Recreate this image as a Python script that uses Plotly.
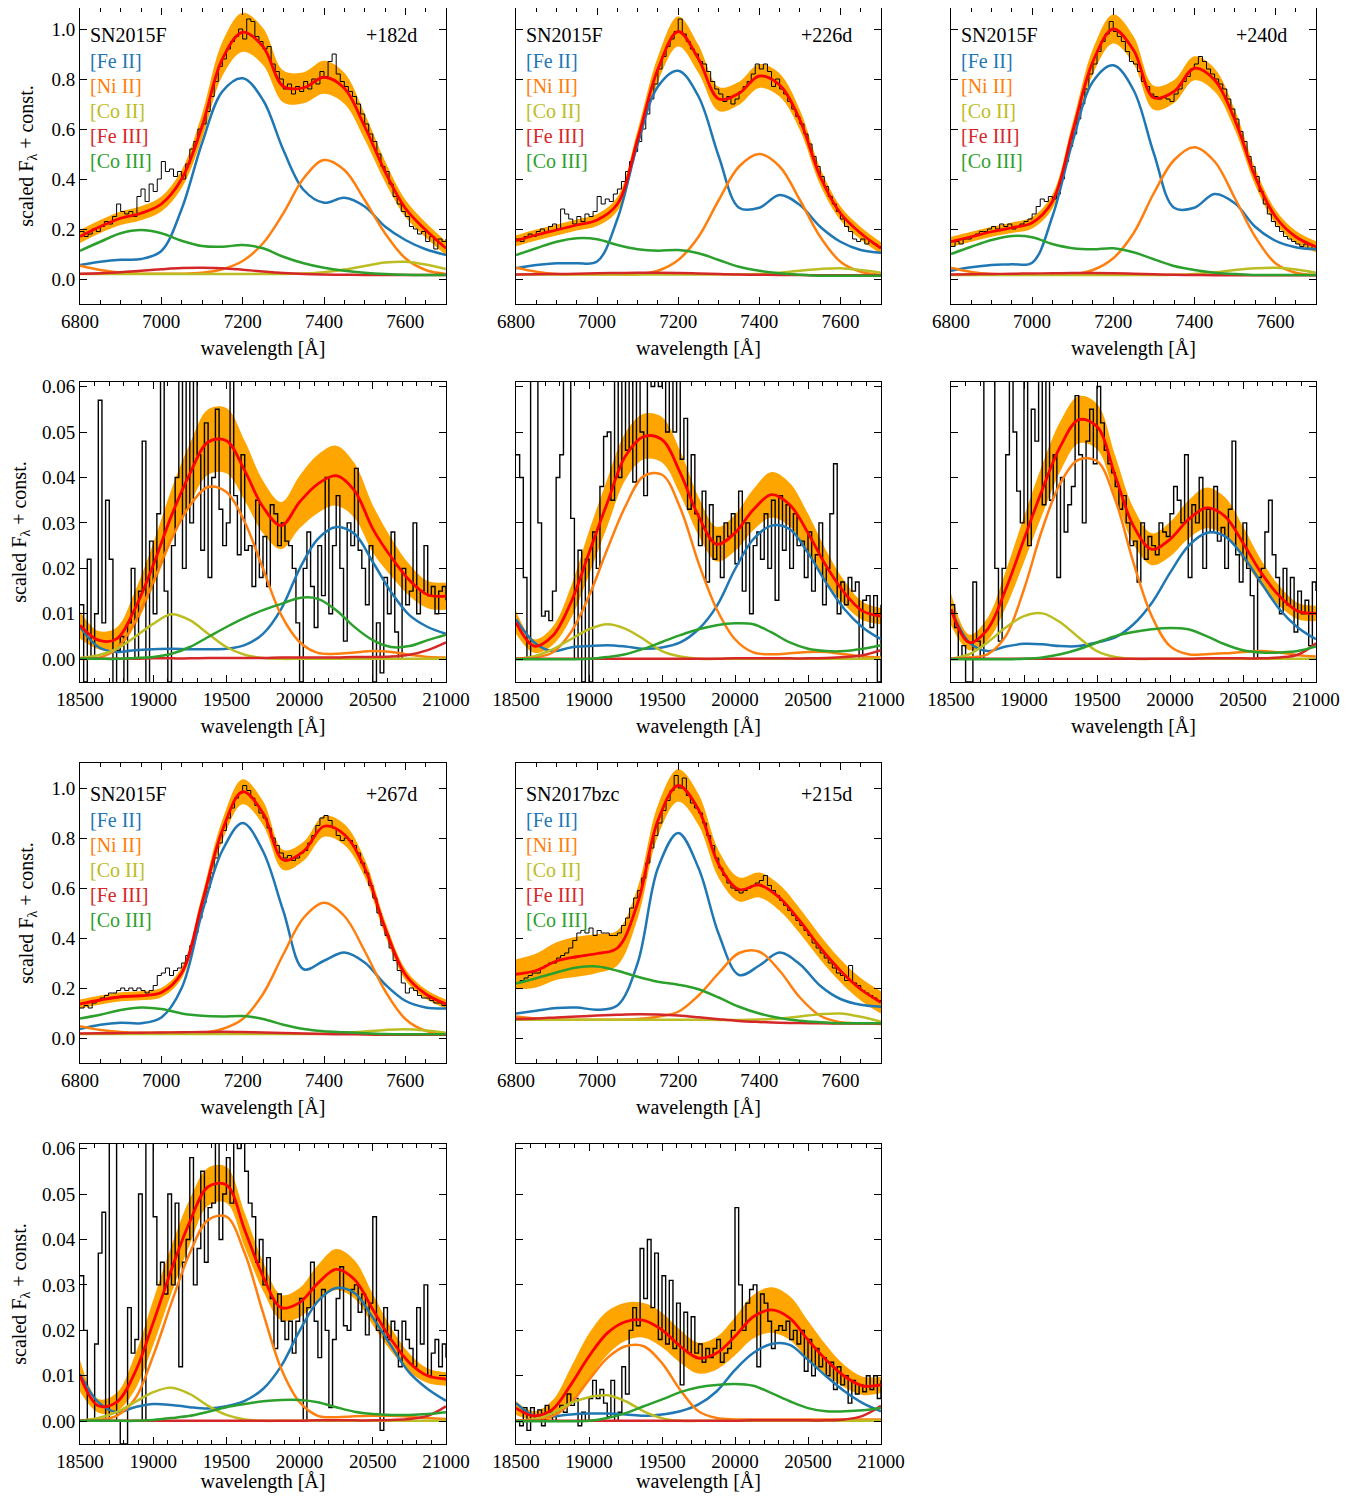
import plotly.graph_objects as go

FONT = "Liberation Serif"

# wavelength sampling (Angstrom)
OPT_WAVE = list(range(6800, 7701, 50))
NIR_WAVE = list(range(18500, 21001, 125))
OPT_SPEC_WAVE = list(range(6800, 7701, 10))
NIR_SPEC_WAVE = list(range(18500, 21001, 25))

SPECIES = ["[Fe II]", "[Ni II]", "[Co II]", "[Fe III]", "[Co III]"]
SPECIES_COLORS = ["#1f77b4", "#ff7f0e", "#bcbd22", "#d62728", "#2ca02c"]

# ---------------- SN2015F +182d, optical ----------------
spec_182 = [0.19, 0.17, 0.18, 0.20, 0.19, 0.21, 0.23, 0.22, 0.25, 0.30,
            0.27, 0.26, 0.27, 0.25, 0.33, 0.36, 0.31, 0.38, 0.35, 0.40,
            0.47, 0.43, 0.44, 0.41, 0.43, 0.40, 0.46, 0.52, 0.55, 0.60,
            0.62, 0.67, 0.73, 0.79, 0.85, 0.88, 0.92, 0.95, 0.97, 1.00,
            0.96, 1.04, 1.03, 0.97, 0.95, 0.92, 0.93, 0.86, 0.83, 0.80,
            0.76, 0.78, 0.74, 0.77, 0.75, 0.79, 0.76, 0.80, 0.78, 0.83,
            0.81, 0.87, 0.90, 0.82, 0.79, 0.77, 0.75, 0.73, 0.70, 0.66,
            0.62, 0.58, 0.55, 0.50, 0.45, 0.43, 0.38, 0.33, 0.30, 0.27,
            0.25, 0.21, 0.20, 0.18, 0.19, 0.15, 0.17, 0.12, 0.16, 0.15,
            0.16]
fit_182 = [0.170, 0.210, 0.243, 0.263, 0.300, 0.400, 0.610, 0.880, 0.987, 0.930,
           0.770, 0.765, 0.807, 0.763, 0.610, 0.430, 0.283, 0.196, 0.123]
sig_182 = [0.026, 0.026, 0.027, 0.028, 0.030, 0.036, 0.050, 0.068, 0.078, 0.074,
           0.064, 0.062, 0.066, 0.062, 0.052, 0.042, 0.034, 0.030, 0.028]
fe2_182 = [0.056, 0.069, 0.077, 0.080, 0.112, 0.280, 0.543, 0.750, 0.803, 0.716,
           0.516, 0.356, 0.305, 0.325, 0.290, 0.210, 0.156, 0.119, 0.096]
ni2_182 = [0.053, 0.036, 0.025, 0.021, 0.021, 0.021, 0.025, 0.039, 0.072, 0.143,
           0.263, 0.403, 0.476, 0.436, 0.316, 0.183, 0.083, 0.036, 0.020]
co2_182 = [0.020, 0.020, 0.020, 0.020, 0.020, 0.020, 0.020, 0.020, 0.020, 0.020,
           0.020, 0.022, 0.027, 0.038, 0.052, 0.066, 0.069, 0.058, 0.040]
fe3_182 = [0.021, 0.023, 0.027, 0.033, 0.039, 0.044, 0.045, 0.043, 0.037, 0.030,
           0.024, 0.020, 0.018, 0.017, 0.016, 0.016, 0.016, 0.016, 0.016]
co3_182 = [0.113, 0.149, 0.183, 0.196, 0.183, 0.153, 0.132, 0.129, 0.136, 0.123,
           0.089, 0.063, 0.045, 0.033, 0.025, 0.020, 0.017, 0.016, 0.016]

# ---------------- SN2015F +226d, optical ----------------
spec_226 = [0.16, 0.15, 0.17, 0.18, 0.17, 0.19, 0.20, 0.19, 0.21, 0.22,
            0.20, 0.28, 0.26, 0.24, 0.22, 0.25, 0.23, 0.26, 0.25, 0.27,
            0.33, 0.30, 0.32, 0.31, 0.34, 0.36, 0.39, 0.43, 0.47, 0.51,
            0.55, 0.60, 0.66, 0.72, 0.78, 0.84, 0.89, 0.93, 0.96, 0.99,
            1.04, 0.98, 0.95, 0.92, 0.90, 0.87, 0.86, 0.83, 0.79, 0.76,
            0.74, 0.71, 0.73, 0.70, 0.72, 0.75, 0.77, 0.79, 0.82, 0.86,
            0.84, 0.86, 0.83, 0.77, 0.80, 0.76, 0.74, 0.71, 0.68, 0.65,
            0.62, 0.58, 0.54, 0.49, 0.45, 0.41, 0.37, 0.33, 0.30, 0.27,
            0.24, 0.21, 0.19, 0.16, 0.15, 0.16, 0.14, 0.15, 0.14, 0.13,
            0.13]
fit_226 = [0.153, 0.176, 0.196, 0.216, 0.236, 0.300, 0.560, 0.840, 0.990, 0.880,
           0.720, 0.743, 0.812, 0.776, 0.636, 0.410, 0.263, 0.183, 0.123]
sig_226 = [0.022, 0.022, 0.022, 0.022, 0.024, 0.028, 0.036, 0.050, 0.060, 0.056,
           0.048, 0.046, 0.048, 0.046, 0.040, 0.034, 0.028, 0.025, 0.024]
fe2_226 = [0.043, 0.056, 0.063, 0.063, 0.070, 0.240, 0.540, 0.770, 0.833, 0.730,
           0.490, 0.285, 0.285, 0.336, 0.296, 0.209, 0.149, 0.116, 0.105]
ni2_226 = [0.045, 0.029, 0.020, 0.019, 0.019, 0.019, 0.019, 0.033, 0.076, 0.169,
           0.316, 0.450, 0.500, 0.450, 0.316, 0.169, 0.069, 0.029, 0.016]
co2_226 = [0.018, 0.018, 0.018, 0.018, 0.018, 0.018, 0.018, 0.018, 0.018, 0.018,
           0.018, 0.018, 0.020, 0.025, 0.033, 0.040, 0.043, 0.036, 0.025]
fe3_226 = [0.018, 0.019, 0.020, 0.021, 0.023, 0.024, 0.025, 0.025, 0.024, 0.022,
           0.020, 0.018, 0.017, 0.016, 0.016, 0.015, 0.015, 0.015, 0.015]
co3_226 = [0.096, 0.123, 0.149, 0.163, 0.159, 0.136, 0.119, 0.113, 0.116, 0.103,
           0.076, 0.049, 0.033, 0.023, 0.017, 0.013, 0.013, 0.013, 0.013]

# ---------------- SN2015F +240d, optical ----------------
spec_240 = [0.13, 0.15, 0.14, 0.16, 0.16, 0.17, 0.18, 0.19, 0.19, 0.20,
            0.21, 0.20, 0.22, 0.21, 0.22, 0.20, 0.21, 0.22, 0.23, 0.24,
            0.26, 0.29, 0.32, 0.31, 0.33, 0.32, 0.34, 0.40, 0.47, 0.53,
            0.58, 0.64, 0.70, 0.76, 0.82, 0.86, 0.91, 0.95, 0.98, 1.03,
            0.99, 0.97, 0.95, 0.91, 0.87, 0.86, 0.83, 0.79, 0.77, 0.74,
            0.73, 0.72, 0.73, 0.72, 0.71, 0.74, 0.76, 0.79, 0.81, 0.84,
            0.86, 0.89, 0.87, 0.84, 0.82, 0.80, 0.78, 0.76, 0.72, 0.68,
            0.64, 0.59, 0.55, 0.49, 0.45, 0.41, 0.35, 0.30, 0.26, 0.23,
            0.21, 0.19, 0.17, 0.16, 0.15, 0.14, 0.13, 0.14, 0.12, 0.13,
            0.12]
fit_240 = [0.149, 0.169, 0.189, 0.205, 0.225, 0.310, 0.590, 0.870, 1.000, 0.916,
           0.725, 0.750, 0.843, 0.796, 0.636, 0.409, 0.249, 0.169, 0.129]
sig_240 = [0.020, 0.020, 0.020, 0.021, 0.023, 0.028, 0.036, 0.050, 0.058, 0.055,
           0.048, 0.046, 0.048, 0.046, 0.040, 0.034, 0.028, 0.024, 0.022]
fe2_240 = [0.033, 0.047, 0.056, 0.059, 0.065, 0.250, 0.550, 0.790, 0.855, 0.756,
           0.503, 0.285, 0.285, 0.340, 0.303, 0.209, 0.153, 0.127, 0.119]
ni2_240 = [0.045, 0.028, 0.020, 0.019, 0.019, 0.019, 0.019, 0.036, 0.083, 0.183,
           0.343, 0.476, 0.527, 0.470, 0.323, 0.169, 0.063, 0.025, 0.015]
co2_240 = [0.016, 0.016, 0.016, 0.016, 0.016, 0.016, 0.016, 0.016, 0.016, 0.016,
           0.016, 0.017, 0.020, 0.027, 0.036, 0.043, 0.045, 0.038, 0.025]
fe3_240 = [0.018, 0.019, 0.020, 0.021, 0.022, 0.023, 0.024, 0.024, 0.023, 0.021,
           0.019, 0.017, 0.016, 0.015, 0.015, 0.015, 0.015, 0.015, 0.015]
co3_240 = [0.100, 0.129, 0.156, 0.172, 0.167, 0.140, 0.123, 0.119, 0.123, 0.107,
           0.079, 0.052, 0.036, 0.025, 0.020, 0.016, 0.016, 0.016, 0.016]

# ---------------- SN2015F +267d, optical ----------------
spec_267 = [0.12, 0.13, 0.12, 0.14, 0.15, 0.16, 0.17, 0.18, 0.18, 0.19,
            0.20, 0.19, 0.20, 0.19, 0.20, 0.19, 0.18, 0.19, 0.21, 0.25,
            0.26, 0.28, 0.25, 0.27, 0.28, 0.30, 0.33, 0.37, 0.42, 0.48,
            0.54, 0.60, 0.66, 0.72, 0.78, 0.83, 0.88, 0.92, 0.96, 0.98,
            1.01, 0.99, 0.96, 0.93, 0.90, 0.88, 0.84, 0.80, 0.77, 0.74,
            0.72, 0.73, 0.71, 0.72, 0.74, 0.75, 0.78, 0.81, 0.85, 0.88,
            0.89, 0.87, 0.84, 0.81, 0.79, 0.80, 0.79, 0.77, 0.74, 0.70,
            0.66, 0.61, 0.56, 0.50, 0.45, 0.41, 0.36, 0.31, 0.27, 0.22,
            0.18, 0.20, 0.19, 0.17, 0.16, 0.16, 0.15, 0.14, 0.14, 0.13,
            0.13]
fit_267 = [0.136, 0.152, 0.165, 0.169, 0.182, 0.260, 0.540, 0.830, 0.985, 0.900,
           0.712, 0.747, 0.847, 0.814, 0.680, 0.440, 0.254, 0.176, 0.136]
sig_267 = [0.018, 0.018, 0.018, 0.018, 0.019, 0.022, 0.030, 0.042, 0.050, 0.048,
           0.040, 0.038, 0.042, 0.042, 0.036, 0.028, 0.022, 0.019, 0.018]
fe2_267 = [0.036, 0.053, 0.061, 0.059, 0.082, 0.200, 0.500, 0.750, 0.860, 0.747,
           0.508, 0.275, 0.309, 0.342, 0.302, 0.215, 0.149, 0.122, 0.118]
ni2_267 = [0.047, 0.032, 0.024, 0.021, 0.021, 0.021, 0.021, 0.036, 0.076, 0.176,
           0.335, 0.481, 0.541, 0.488, 0.348, 0.189, 0.076, 0.029, 0.019]
co2_267 = [0.016, 0.016, 0.016, 0.016, 0.016, 0.016, 0.016, 0.016, 0.016, 0.016,
           0.016, 0.016, 0.017, 0.020, 0.026, 0.032, 0.035, 0.030, 0.021]
fe3_267 = [0.018, 0.019, 0.020, 0.021, 0.022, 0.023, 0.024, 0.025, 0.024, 0.022,
           0.020, 0.018, 0.016, 0.015, 0.014, 0.013, 0.013, 0.013, 0.013]
co3_267 = [0.078, 0.093, 0.112, 0.122, 0.116, 0.098, 0.089, 0.086, 0.088, 0.076,
           0.053, 0.036, 0.027, 0.023, 0.019, 0.016, 0.015, 0.015, 0.015]

# ---------------- SN2017bzc +215d, optical ----------------
spec_215 = [0.22, 0.23, 0.24, 0.25, 0.26, 0.26, 0.28, 0.29, 0.30, 0.30,
            0.32, 0.33, 0.34, 0.36, 0.39, 0.42, 0.43, 0.42, 0.44, 0.41,
            0.43, 0.42, 0.42, 0.41, 0.41, 0.42, 0.45, 0.48, 0.52, 0.56,
            0.59, 0.64, 0.70, 0.76, 0.81, 0.86, 0.91, 0.95, 0.99, 1.05,
            1.00, 1.04, 0.97, 0.94, 0.92, 0.90, 0.86, 0.81, 0.77, 0.72,
            0.68, 0.65, 0.62, 0.60, 0.59, 0.58, 0.59, 0.60, 0.61, 0.62,
            0.63, 0.65, 0.61, 0.59, 0.57, 0.55, 0.53, 0.51, 0.49, 0.47,
            0.45, 0.43, 0.41, 0.38, 0.36, 0.34, 0.32, 0.30, 0.28, 0.26,
            0.25, 0.23, 0.29, 0.22, 0.21, 0.19, 0.18, 0.17, 0.16, 0.15,
            0.15]
fit_215 = [0.255, 0.270, 0.308, 0.325, 0.338, 0.360, 0.540, 0.870, 1.010, 0.914,
           0.694, 0.594, 0.612, 0.561, 0.468, 0.362, 0.269, 0.195, 0.142]
sig_215 = [0.060, 0.068, 0.075, 0.080, 0.078, 0.070, 0.062, 0.062, 0.065, 0.062,
           0.055, 0.048, 0.050, 0.052, 0.050, 0.048, 0.046, 0.045, 0.045]
fe2_215 = [0.098, 0.109, 0.120, 0.122, 0.113, 0.130, 0.300, 0.680, 0.820, 0.680,
           0.415, 0.252, 0.290, 0.342, 0.295, 0.209, 0.156, 0.133, 0.125]
ni2_215 = [0.086, 0.078, 0.074, 0.073, 0.073, 0.073, 0.076, 0.085, 0.105, 0.170,
           0.260, 0.340, 0.345, 0.269, 0.162, 0.089, 0.063, 0.059, 0.056]
co2_215 = [0.073, 0.073, 0.073, 0.073, 0.073, 0.073, 0.073, 0.073, 0.073, 0.073,
           0.072, 0.072, 0.074, 0.078, 0.086, 0.095, 0.098, 0.085, 0.066]
fe3_215 = [0.076, 0.078, 0.082, 0.086, 0.090, 0.093, 0.095, 0.094, 0.090, 0.083,
           0.075, 0.068, 0.064, 0.061, 0.060, 0.059, 0.058, 0.058, 0.058]
co3_215 = [0.218, 0.239, 0.262, 0.282, 0.286, 0.269, 0.245, 0.225, 0.213, 0.195,
           0.162, 0.125, 0.098, 0.080, 0.069, 0.063, 0.059, 0.059, 0.059]

# ---------------- SN2015F +182d, NIR ----------------
nspec_182 = [0.012, -0.005, 0.022, 0.0, 0.01, 0.057, 0.008, 0.035, 0.022, -0.01,
             0.002, 0.005, -0.008, 0.008, 0.02, 0.0, 0.015, 0.048, -0.01, 0.026,
             0.01, 0.032, 0.065, 0.015, -0.005, 0.025, 0.04, 0.065, 0.02, 0.065,
             0.03, 0.065, 0.045, 0.024, 0.052, 0.018, 0.04, 0.055, 0.033, 0.025,
             0.03, 0.065, 0.036, 0.023, 0.045, 0.024, 0.025, 0.016, 0.035, 0.018,
             0.027, 0.016, 0.034, 0.032, 0.025, 0.03, 0.026, 0.025, 0.02, 0.008,
             -0.005, 0.02, 0.028, 0.016, 0.007, 0.025, 0.014, 0.04, 0.01, 0.025,
             0.036, 0.02, 0.004, 0.03, 0.025, 0.042, 0.024, 0.02, 0.012, 0.025,
             -0.005, 0.008, -0.003, 0.018, 0.01, 0.028, 0.006, 0.0, 0.02, 0.012,
             0.015, 0.03, 0.01, 0.015, 0.025, 0.014, 0.016, 0.01, 0.015, 0.016,
             0.013]
nfit_182 = [0.0075, 0.0042, 0.0045, 0.0111, 0.0207, 0.0316, 0.0408, 0.0478, 0.0481, 0.0415,
            0.0335, 0.0294, 0.0346, 0.0386, 0.0404, 0.0371, 0.0287, 0.0225, 0.0174, 0.0142,
            0.0139]
nsig_182 = [0.0030, 0.0020, 0.0025, 0.0038, 0.0048, 0.0058, 0.0066, 0.0072, 0.0072, 0.0066,
            0.0058, 0.0052, 0.0058, 0.0064, 0.0066, 0.0060, 0.0052, 0.0042, 0.0035, 0.0030,
            0.0030]
nfe2_182 = [0.0071, 0.0027, 0.0016, 0.0020, 0.0022, 0.0023, 0.0022, 0.0022, 0.0023, 0.0031,
            0.0056, 0.0111, 0.0199, 0.0265, 0.0291, 0.0276, 0.0214, 0.0148, 0.0097, 0.0071,
            0.0056]
nni2_182 = [0.0001, 0.0003, 0.0023, 0.0082, 0.0170, 0.0265, 0.0338, 0.0379, 0.0368, 0.0302,
            0.0199, 0.0097, 0.0038, 0.0014, 0.0012, 0.0015, 0.0018, 0.0016, 0.0010, 0.0005,
            0.0004]
nco2_182 = [0.0003, 0.0009, 0.0023, 0.0049, 0.0078, 0.0099, 0.0086, 0.0056, 0.0027, 0.0010,
            0.0003, 0.0001, 0.0001, 0.0001, 0.0001, 0.0001, 0.0001, 0.0001, 0.0001, 0.0001,
            0.0001]
nfe3_182 = [0.0001, 0.0001, 0.0001, 0.0001, 0.0002, 0.0002, 0.0002, 0.0003, 0.0003, 0.0003,
            0.0003, 0.0004, 0.0004, 0.0004, 0.0004, 0.0005, 0.0005, 0.0006, 0.0010, 0.0020,
            0.0037]
nco3_182 = [0.0001, 0.0001, 0.0001, 0.0003, 0.0005, 0.0012, 0.0027, 0.0049, 0.0071, 0.0091,
            0.0108, 0.0122, 0.0135, 0.0133, 0.0108, 0.0071, 0.0042, 0.0027, 0.0029, 0.0042,
            0.0054]

# ---------------- SN2015F +226d, NIR ----------------
nspec_226 = [0.045, 0.04, 0.018, 0.0, 0.065, 0.065, 0.03, 0.0095, 0.0106, 0.0085,
             0.015, 0.04, 0.045, 0.065, 0.065, 0.031, 0.0, 0.024, -0.005, 0.022,
             -0.005, 0.028, 0.02, 0.038, 0.049, 0.05, 0.035, 0.065, 0.04, 0.065,
             0.046, 0.065, 0.039, 0.065, 0.05, 0.036, 0.065, 0.06, 0.065, 0.06,
             0.065, 0.05, 0.065, 0.05, 0.065, 0.044, 0.053, 0.033, 0.045, 0.032,
             0.025, 0.037, 0.017, 0.034, 0.022, 0.027, 0.018, 0.03, 0.027, 0.032,
             0.021, 0.037, 0.015, 0.03, 0.01, 0.025, 0.028, 0.022, 0.032, 0.02,
             0.035, 0.013, 0.036, 0.024, 0.034, 0.02, 0.032, 0.025, 0.026, 0.018,
             0.028, 0.015, 0.023, 0.03, 0.012, 0.02, 0.032, 0.043, 0.01, 0.017,
             0.012, 0.018, 0.015, 0.017, 0.0, 0.013, 0.014, 0.007, 0.014, -0.005,
             0.012]
nfit_226 = [0.0081, 0.0029, 0.0051, 0.0124, 0.0234, 0.0344, 0.0447, 0.0490, 0.0483, 0.0410,
            0.0315, 0.0253, 0.0278, 0.0329, 0.0362, 0.0340, 0.0278, 0.0205, 0.0146, 0.0106,
            0.0095]
nsig_226 = [0.0025, 0.0015, 0.0020, 0.0035, 0.0048, 0.0052, 0.0052, 0.0050, 0.0050, 0.0048,
            0.0042, 0.0038, 0.0040, 0.0045, 0.0050, 0.0048, 0.0042, 0.0034, 0.0026, 0.0020,
            0.0018]
nfe2_226 = [0.0088, 0.0037, 0.0018, 0.0026, 0.0029, 0.0031, 0.0028, 0.0023, 0.0026, 0.0037,
            0.0066, 0.0117, 0.0198, 0.0264, 0.0294, 0.0286, 0.0234, 0.0168, 0.0110, 0.0070,
            0.0044]
nni2_226 = [0.0001, 0.0004, 0.0015, 0.0059, 0.0139, 0.0242, 0.0337, 0.0403, 0.0406, 0.0333,
            0.0212, 0.0110, 0.0044, 0.0015, 0.0011, 0.0013, 0.0016, 0.0016, 0.0011, 0.0006,
            0.0004]
nco2_226 = [0.0001, 0.0007, 0.0022, 0.0044, 0.0066, 0.0077, 0.0067, 0.0044, 0.0018, 0.0006,
            0.0001, 0.0001, 0.0001, 0.0001, 0.0001, 0.0001, 0.0001, 0.0001, 0.0001, 0.0001,
            0.0001]
nfe3_226 = [0.0001, 0.0001, 0.0001, 0.0001, 0.0001, 0.0001, 0.0001, 0.0001, 0.0001, 0.0001,
            0.0001, 0.0001, 0.0002, 0.0002, 0.0002, 0.0002, 0.0002, 0.0003, 0.0005, 0.0009,
            0.0020]
nco3_226 = [0.0000, 0.0000, 0.0000, 0.0000, 0.0001, 0.0005, 0.0011, 0.0023, 0.0038, 0.0053,
            0.0066, 0.0075, 0.0079, 0.0077, 0.0059, 0.0037, 0.0023, 0.0018, 0.0018, 0.0023,
            0.0031]

# ---------------- SN2015F +240d, NIR ----------------
nspec_240 = [0.012, 0.007, 0.0, 0.003, -0.005, -0.005, 0.017, 0.004, 0.0, 0.065,
             0.065, 0.065, 0.02, 0.004, 0.02, 0.045, 0.065, 0.05, 0.037, 0.03,
             0.065, 0.025, 0.055, 0.048, 0.065, 0.034, 0.065, 0.035, 0.045, 0.018,
             0.04, 0.028, 0.034, 0.038, 0.058, 0.045, 0.03, 0.048, 0.055, 0.043,
             0.06, 0.052, 0.046, 0.043, 0.041, 0.038, 0.033, 0.036, 0.03, 0.025,
             0.026, 0.017, 0.03, 0.022, 0.027, 0.025, 0.023, 0.03, 0.028, 0.027,
             0.032, 0.038, 0.035, 0.03, 0.045, 0.018, 0.034, 0.03, 0.04, 0.02,
             0.033, 0.028, 0.038, 0.026, 0.029, 0.02, 0.033, 0.048, 0.023, 0.017,
             0.03, 0.02, 0.014, 0.0, 0.018, 0.02, 0.028, 0.035, 0.023, 0.018,
             0.01, 0.02, 0.012, 0.018, 0.006, 0.015, 0.01, 0.013, 0.003, 0.017,
             0.015]
nfit_240 = [0.0110, 0.0037, 0.0066, 0.0154, 0.0264, 0.0373, 0.0469, 0.0527, 0.0512, 0.0403,
            0.0293, 0.0242, 0.0264, 0.0307, 0.0333, 0.0315, 0.0256, 0.0190, 0.0139, 0.0106,
            0.0101]
nsig_240 = [0.0035, 0.0017, 0.0025, 0.0040, 0.0050, 0.0055, 0.0055, 0.0052, 0.0050, 0.0045,
            0.0040, 0.0035, 0.0038, 0.0042, 0.0045, 0.0042, 0.0036, 0.0028, 0.0022, 0.0018,
            0.0017]
nfe2_240 = [0.0110, 0.0037, 0.0018, 0.0028, 0.0034, 0.0033, 0.0029, 0.0029, 0.0037, 0.0048,
            0.0077, 0.0124, 0.0190, 0.0249, 0.0278, 0.0271, 0.0227, 0.0168, 0.0110, 0.0070,
            0.0044]
nni2_240 = [0.0001, 0.0004, 0.0011, 0.0051, 0.0154, 0.0286, 0.0388, 0.0439, 0.0436, 0.0351,
            0.0212, 0.0095, 0.0029, 0.0011, 0.0011, 0.0013, 0.0016, 0.0018, 0.0015, 0.0009,
            0.0006]
nco2_240 = [0.0001, 0.0011, 0.0037, 0.0070, 0.0095, 0.0101, 0.0081, 0.0048, 0.0018, 0.0005,
            0.0001, 0.0001, 0.0001, 0.0001, 0.0001, 0.0001, 0.0001, 0.0001, 0.0001, 0.0001,
            0.0001]
nfe3_240 = [0.0001, 0.0001, 0.0001, 0.0001, 0.0001, 0.0001, 0.0001, 0.0001, 0.0001, 0.0001,
            0.0001, 0.0001, 0.0001, 0.0001, 0.0002, 0.0002, 0.0002, 0.0002, 0.0004, 0.0010,
            0.0035]
nco3_240 = [0.0000, 0.0000, 0.0000, 0.0000, 0.0001, 0.0004, 0.0011, 0.0022, 0.0037, 0.0051,
            0.0060, 0.0066, 0.0069, 0.0066, 0.0051, 0.0033, 0.0020, 0.0015, 0.0015, 0.0018,
            0.0028]

# ---------------- SN2015F +267d, NIR ----------------
nspec_267 = [0.032, 0.02, 0.0, 0.0, 0.017, 0.037, 0.046, 0.0, 0.065, 0.065,
             0.0, -0.005, -0.005, 0.025, 0.015, 0.018, 0.05, 0.0, 0.065, 0.065,
             0.045, 0.03, 0.035, 0.028, 0.05, 0.03, 0.048, 0.012, 0.035, 0.04,
             0.058, 0.03, 0.038, 0.055, 0.035, 0.047, 0.048, 0.065, 0.04, 0.05,
             0.058, 0.048, 0.065, 0.06, 0.065, 0.055, 0.048, 0.045, 0.035, 0.04,
             0.03, 0.036, 0.027, 0.016, 0.028, 0.022, 0.018, 0.022, 0.015, 0.022,
             0.027, 0.0, 0.025, 0.035, 0.022, 0.014, 0.029, 0.02, 0.003, 0.018,
             0.027, 0.034, 0.021, 0.02, 0.029, 0.03, 0.024, 0.028, 0.019, 0.026,
             0.045, 0.02, -0.002, 0.025, 0.018, 0.022, 0.02, 0.012, 0.022, 0.018,
             0.016, 0.012, 0.025, 0.017, 0.03, 0.01, 0.015, 0.018, 0.012, 0.017,
             0.014]
nfit_267 = [0.0100, 0.0034, 0.0042, 0.0107, 0.0217, 0.0334, 0.0439, 0.0516, 0.0520, 0.0421,
            0.0319, 0.0250, 0.0261, 0.0304, 0.0334, 0.0312, 0.0246, 0.0180, 0.0129, 0.0100,
            0.0093]
nsig_267 = [0.0035, 0.0015, 0.0020, 0.0038, 0.0050, 0.0052, 0.0050, 0.0042, 0.0040, 0.0038,
            0.0032, 0.0028, 0.0032, 0.0040, 0.0045, 0.0042, 0.0034, 0.0026, 0.0020, 0.0016,
            0.0015]
nfe2_267 = [0.0104, 0.0042, 0.0020, 0.0031, 0.0038, 0.0036, 0.0031, 0.0028, 0.0033, 0.0045,
            0.0071, 0.0122, 0.0199, 0.0264, 0.0293, 0.0282, 0.0228, 0.0166, 0.0107, 0.0071,
            0.0045]
nni2_267 = [0.0001, 0.0003, 0.0012, 0.0049, 0.0144, 0.0261, 0.0370, 0.0443, 0.0450, 0.0370,
            0.0239, 0.0115, 0.0042, 0.0012, 0.0009, 0.0011, 0.0012, 0.0012, 0.0010, 0.0007,
            0.0005]
nco2_267 = [0.0001, 0.0007, 0.0020, 0.0042, 0.0064, 0.0074, 0.0060, 0.0034, 0.0014, 0.0004,
            0.0001, 0.0001, 0.0001, 0.0001, 0.0001, 0.0001, 0.0001, 0.0001, 0.0001, 0.0001,
            0.0001]
nfe3_267 = [0.0001, 0.0001, 0.0001, 0.0001, 0.0001, 0.0001, 0.0001, 0.0001, 0.0001, 0.0001,
            0.0001, 0.0001, 0.0001, 0.0002, 0.0002, 0.0002, 0.0002, 0.0003, 0.0005, 0.0012,
            0.0033]
nco3_267 = [0.0001, 0.0001, 0.0001, 0.0001, 0.0003, 0.0007, 0.0012, 0.0021, 0.0031, 0.0038,
            0.0044, 0.0047, 0.0047, 0.0042, 0.0031, 0.0021, 0.0016, 0.0014, 0.0014, 0.0016,
            0.0020]

# ---------------- SN2017bzc +215d, NIR ----------------
nspec_215 = [0.0, -0.001, 0.003, -0.002, 0.003, 0.001, 0.0025, -0.001, 0.0035, 0.002,
             0.0, 0.002, 0.0035, 0.002, 0.006, 0.0035, 0.005, -0.001, 0.002, 0.0,
             0.005, 0.009, 0.005, 0.007, 0.004, 0.001, 0.009, 0.0, 0.002, 0.012,
             0.006, 0.02, 0.025, 0.021, 0.038, 0.027, 0.04, 0.025, 0.037, 0.018,
             0.032, 0.017, 0.031, 0.016, 0.026, 0.008, 0.024, 0.015, 0.023, 0.015,
             0.017, 0.013, 0.016, 0.014, 0.016, 0.018, 0.013, 0.015, 0.016, 0.02,
             0.047, 0.03, 0.02, 0.026, 0.029, 0.03, 0.012, 0.028, 0.026, 0.022,
             0.016, 0.02, 0.021, 0.02, 0.022, 0.018, 0.02, 0.017, 0.02, 0.011,
             0.018, 0.01, 0.016, 0.012, 0.014, 0.01, 0.013, 0.007, 0.012, 0.008,
             0.01, 0.004, 0.009, 0.006, 0.008, 0.0065, 0.01, 0.007, 0.01, 0.005,
             0.009]
nfit_215 = [0.0029, 0.0012, 0.0026, 0.0080, 0.0143, 0.0194, 0.0219, 0.0222, 0.0201, 0.0165,
            0.0139, 0.0150, 0.0187, 0.0230, 0.0245, 0.0227, 0.0179, 0.0135, 0.0099, 0.0078,
            0.0080]
nsig_215 = [0.0015, 0.0010, 0.0020, 0.0038, 0.0050, 0.0048, 0.0042, 0.0038, 0.0038, 0.0036,
            0.0034, 0.0036, 0.0042, 0.0048, 0.0050, 0.0048, 0.0042, 0.0032, 0.0024, 0.0020,
            0.0018]
nfe2_215 = [0.0040, 0.0012, 0.0011, 0.0015, 0.0017, 0.0017, 0.0015, 0.0012, 0.0015, 0.0022,
            0.0037, 0.0066, 0.0113, 0.0150, 0.0170, 0.0168, 0.0135, 0.0099, 0.0066, 0.0040,
            0.0022]
nni2_215 = [0.0001, 0.0004, 0.0012, 0.0040, 0.0091, 0.0139, 0.0165, 0.0165, 0.0128, 0.0069,
            0.0022, 0.0007, 0.0004, 0.0004, 0.0004, 0.0004, 0.0004, 0.0004, 0.0004, 0.0004,
            0.0004]
nco2_215 = [0.0001, 0.0005, 0.0018, 0.0040, 0.0053, 0.0057, 0.0044, 0.0022, 0.0007, 0.0001,
            0.0001, 0.0001, 0.0001, 0.0001, 0.0001, 0.0001, 0.0001, 0.0001, 0.0001, 0.0001,
            0.0001]
nfe3_215 = [0.0001, 0.0001, 0.0001, 0.0001, 0.0001, 0.0001, 0.0001, 0.0001, 0.0001, 0.0001,
            0.0001, 0.0001, 0.0001, 0.0002, 0.0002, 0.0002, 0.0002, 0.0002, 0.0004, 0.0012,
            0.0034]
nco3_215 = [0.0000, 0.0000, 0.0000, 0.0000, 0.0001, 0.0007, 0.0018, 0.0033, 0.0048, 0.0064,
            0.0075, 0.0080, 0.0082, 0.0078, 0.0062, 0.0044, 0.0029, 0.0022, 0.0022, 0.0024,
            0.0029]

panels = [
    dict(kind="opt", row=0, col=0, spec=spec_182, fit=fit_182, sig=sig_182,
         comps=[fe2_182, ni2_182, co2_182, fe3_182, co3_182], name="SN2015F", phase="+182d"),
    dict(kind="opt", row=0, col=1, spec=spec_226, fit=fit_226, sig=sig_226,
         comps=[fe2_226, ni2_226, co2_226, fe3_226, co3_226], name="SN2015F", phase="+226d"),
    dict(kind="opt", row=0, col=2, spec=spec_240, fit=fit_240, sig=sig_240,
         comps=[fe2_240, ni2_240, co2_240, fe3_240, co3_240], name="SN2015F", phase="+240d"),
    dict(kind="nir", row=1, col=0, spec=nspec_182, fit=nfit_182, sig=nsig_182,
         comps=[nfe2_182, nni2_182, nco2_182, nfe3_182, nco3_182]),
    dict(kind="nir", row=1, col=1, spec=nspec_226, fit=nfit_226, sig=nsig_226,
         comps=[nfe2_226, nni2_226, nco2_226, nfe3_226, nco3_226]),
    dict(kind="nir", row=1, col=2, spec=nspec_240, fit=nfit_240, sig=nsig_240,
         comps=[nfe2_240, nni2_240, nco2_240, nfe3_240, nco3_240]),
    dict(kind="opt", row=2, col=0, spec=spec_267, fit=fit_267, sig=sig_267,
         comps=[fe2_267, ni2_267, co2_267, fe3_267, co3_267], name="SN2015F", phase="+267d"),
    dict(kind="opt", row=2, col=1, spec=spec_215, fit=fit_215, sig=sig_215,
         comps=[fe2_215, ni2_215, co2_215, fe3_215, co3_215], name="SN2017bzc", phase="+215d"),
    dict(kind="nir", row=3, col=0, spec=nspec_267, fit=nfit_267, sig=nsig_267,
         comps=[nfe2_267, nni2_267, nco2_267, nfe3_267, nco3_267]),
    dict(kind="nir", row=3, col=1, spec=nspec_215, fit=nfit_215, sig=nsig_215,
         comps=[nfe2_215, nni2_215, nco2_215, nfe3_215, nco3_215]),
]

# the page body adds an 8 px margin, so the figure is a little smaller
# and panel positions are given in page pixels minus that offset
OFF = 8
W, H = 1367 - 2 * OFF, 1501 - 2 * OFF
COL_PX = [(80, 446), (516, 881), (951, 1316)]
ROW_PX = [(8, 304), (382, 682), (763, 1063), (1144, 1444)]

fig = go.Figure()
annotations = []
axes = {}

for i, p in enumerate(panels, start=1):
    sfx = "" if i == 1 else str(i)
    xa, ya = "x" + sfx, "y" + sfx
    opt = p["kind"] == "opt"
    wave = OPT_WAVE if opt else NIR_WAVE
    swave = OPT_SPEC_WAVE if opt else NIR_SPEC_WAVE

    lo = [f - s for f, s in zip(p["fit"], p["sig"])]
    hi = [f + s for f, s in zip(p["fit"], p["sig"])]
    fig.add_trace(go.Scatter(x=wave, y=lo, xaxis=xa, yaxis=ya, mode="lines",
                             line=dict(width=0, shape="spline", color="orange"),
                             hoverinfo="skip", showlegend=False))
    fig.add_trace(go.Scatter(x=wave, y=hi, xaxis=xa, yaxis=ya, mode="lines",
                             line=dict(width=0, shape="spline", color="orange"),
                             fill="tonexty", fillcolor="orange",
                             hoverinfo="skip", showlegend=False))
    fig.add_trace(go.Scatter(x=swave, y=p["spec"], xaxis=xa, yaxis=ya, mode="lines",
                             line=dict(color="black", width=1.0 if opt else 1.4, shape="hv"),
                             showlegend=False))
    for comp, color, label in zip(p["comps"], SPECIES_COLORS, SPECIES):
        fig.add_trace(go.Scatter(x=wave, y=comp, xaxis=xa, yaxis=ya, mode="lines", name=label,
                                 line=dict(color=color, width=2.5, shape="spline"),
                                 showlegend=False))
    fig.add_trace(go.Scatter(x=wave, y=p["fit"], xaxis=xa, yaxis=ya, mode="lines",
                             line=dict(color="red", width=2.8, shape="spline"),
                             showlegend=False))

    c0, c1 = COL_PX[p["col"]]
    r0, r1 = ROW_PX[p["row"]]
    top = p["row"] == 0
    ph = r1 - r0

    tickfont = dict(family=FONT, size=19, color="black")
    common = dict(showline=True, linecolor="black", linewidth=1, mirror="ticks",
                  ticks="inside", ticklen=7, tickwidth=1, tickcolor="black",
                  showgrid=False, zeroline=False, automargin=False, tickfont=tickfont)

    yr = [-0.1, 1.1] if opt else [-0.005, 0.061]
    if top:
        # clipped 4 px off the top: shrink the upper limit to match
        yr = [-0.1, 1.1 - 4 / 250]

    axes["xaxis" + sfx] = dict(
        common, anchor=ya, domain=[(c0 - OFF) / W, (c1 - OFF) / W],
        range=[6800, 7700] if opt else [18500, 21000],
        tick0=6800 if opt else 18500, dtick=200 if opt else 500, tickformat="d",
        minor=dict(ticks="inside", ticklen=4, tickwidth=1, tickcolor="black",
                   dtick=50 if opt else 100, showgrid=False),
        title=dict(text="wavelength [Å]", font=dict(family=FONT, size=20, color="black"),
                   standoff=10),
    )
    yax = dict(
        common, anchor=xa, domain=[1 - (r1 - OFF) / H, min(1.0, 1 - (r0 - OFF) / H)],
        range=yr,
        tick0=0, dtick=0.2 if opt else 0.01,
        tickformat=".1f" if opt else ".2f",
        showticklabels=p["col"] == 0,
    )
    if p["col"] == 0:
        yax["title"] = dict(text="scaled F<sub>λ</sub> + const.",
                            font=dict(family=FONT, size=20, color="black"), standoff=12)
    axes["yaxis" + sfx] = yax

    if opt:
        # label rows sit at fixed pixel offsets below a 300 px panel top
        def ydom(px_from_top):
            return 1 - (px_from_top - (300 - ph)) / ph

        annotations.append(dict(xref=xa + " domain", yref=ya + " domain", x=0.022, y=ydom(31),
                                text=p["name"], showarrow=False, xanchor="left",
                                yanchor="middle", font=dict(family=FONT, size=20, color="black")))
        annotations.append(dict(xref=xa + " domain", yref=ya + " domain", x=0.926, y=ydom(31),
                                text=p["phase"], showarrow=False, xanchor="right",
                                yanchor="middle", font=dict(family=FONT, size=20, color="black")))
        for k, (label, color) in enumerate(zip(SPECIES, SPECIES_COLORS)):
            annotations.append(dict(xref=xa + " domain", yref=ya + " domain", x=0.022,
                                    y=ydom(56.5 + 25 * k), text=label, showarrow=False,
                                    xanchor="left", yanchor="middle",
                                    font=dict(family=FONT, size=20, color=color)))

fig.update_layout(
    width=W, height=H,
    margin=dict(l=0, r=0, t=0, b=0),
    paper_bgcolor="white", plot_bgcolor="white",
    showlegend=False,
    annotations=annotations,
    **axes,
)

fig.write_html("out.html")
